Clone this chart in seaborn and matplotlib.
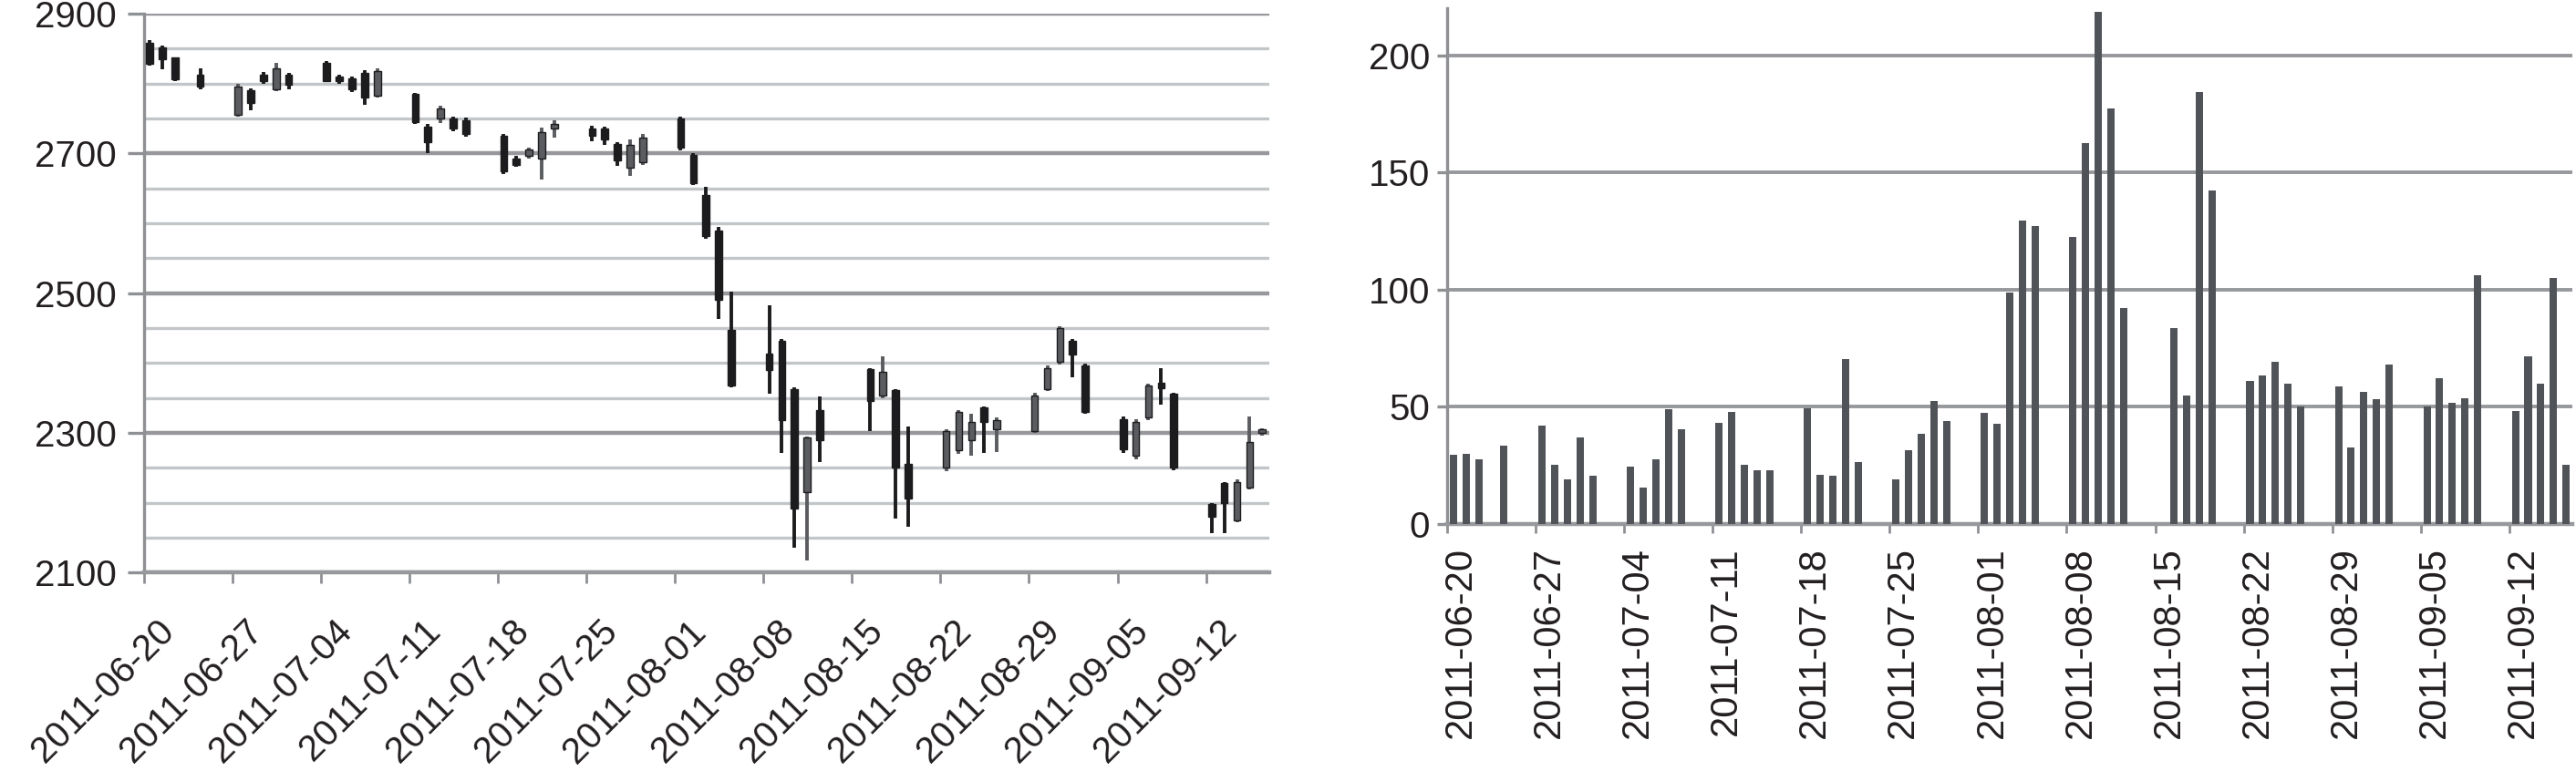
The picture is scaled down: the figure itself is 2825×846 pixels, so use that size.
"""
Candlestick prices (left) and daily volume bars (right), 2011-06-20 .. 2011-09-16.
"""

from __future__ import annotations

import matplotlib

matplotlib.use("Agg")

import matplotlib.dates as mdates
import matplotlib.pyplot as plt
import matplotlib.transforms as mtransforms
import numpy as np
import pandas as pd
import seaborn as sns

# --- data ------------------------------------------------------------------
trade_dates = [
    "2011-06-20", "2011-06-21", "2011-06-22", "2011-06-24",
    "2011-06-27", "2011-06-28", "2011-06-29", "2011-06-30", "2011-07-01",
    "2011-07-04", "2011-07-05", "2011-07-06", "2011-07-07", "2011-07-08",
    "2011-07-11", "2011-07-12", "2011-07-13", "2011-07-14", "2011-07-15",
    "2011-07-18", "2011-07-19", "2011-07-20", "2011-07-21", "2011-07-22",
    "2011-07-25", "2011-07-26", "2011-07-27", "2011-07-28", "2011-07-29",
    "2011-08-01", "2011-08-02", "2011-08-03", "2011-08-04", "2011-08-05",
    "2011-08-08", "2011-08-09", "2011-08-10", "2011-08-11", "2011-08-12",
    "2011-08-16", "2011-08-17", "2011-08-18", "2011-08-19",
    "2011-08-22", "2011-08-23", "2011-08-24", "2011-08-25", "2011-08-26",
    "2011-08-29", "2011-08-30", "2011-08-31", "2011-09-01", "2011-09-02",
    "2011-09-05", "2011-09-06", "2011-09-07", "2011-09-08", "2011-09-09",
    "2011-09-12", "2011-09-13", "2011-09-14", "2011-09-15", "2011-09-16",
]

open_price = [
    2858, 2852, 2837, 2812,
    2755, 2790, 2812, 2792, 2812,
    2830, 2810, 2808, 2815, 2782,
    2785, 2738, 2750, 2750, 2748,
    2725, 2692, 2696, 2692, 2735,
    2735, 2735, 2714, 2680, 2688,
    2750, 2698, 2640, 2589, 2447,
    2413, 2432, 2362, 2215, 2332,
    2391, 2354, 2361, 2256,
    2250, 2275, 2290, 2336, 2305,
    2303, 2363, 2402, 2432, 2397,
    2320, 2268, 2322, 2372, 2356,
    2198, 2228, 2175, 2222, 2300,
]

high_price = [
    2862, 2854, 2838, 2822,
    2800, 2793, 2816, 2830, 2815,
    2832, 2812, 2810, 2819, 2822,
    2787, 2742, 2768, 2753, 2751,
    2728, 2696, 2708, 2737, 2747,
    2739, 2738, 2716, 2720, 2728,
    2752, 2700, 2652, 2595, 2502,
    2482, 2434, 2365, 2295, 2352,
    2393, 2410, 2363, 2309,
    2305, 2333, 2328, 2338, 2322,
    2357, 2396, 2453, 2434, 2399,
    2323, 2319, 2371, 2393, 2358,
    2200, 2230, 2233, 2323, 2306,
]

low_price = [
    2826, 2820, 2804, 2792,
    2752, 2762, 2799, 2789, 2792,
    2802, 2800, 2788, 2770, 2780,
    2742, 2700, 2744, 2732, 2724,
    2670, 2681, 2693, 2662, 2722,
    2718, 2712, 2682, 2668, 2684,
    2704, 2655, 2578, 2463, 2365,
    2356, 2271, 2136, 2117, 2258,
    2303, 2350, 2178, 2166,
    2245, 2270, 2267, 2271, 2272,
    2300, 2360, 2398, 2380, 2328,
    2271, 2262, 2318, 2341, 2247,
    2156, 2156, 2172, 2219, 2296,
]

close_price = [
    2828, 2835, 2806, 2796,
    2795, 2772, 2803, 2822, 2798,
    2804, 2803, 2792, 2780, 2818,
    2745, 2716, 2764, 2735, 2728,
    2674, 2684, 2706, 2730, 2742,
    2725, 2720, 2690, 2712, 2722,
    2708, 2658, 2582, 2490, 2368,
    2390, 2318, 2192, 2293, 2290,
    2345, 2388, 2250, 2206,
    2303, 2330, 2315, 2316, 2318,
    2354, 2393, 2450, 2412, 2330,
    2276, 2316, 2368, 2364, 2250,
    2180, 2200, 2230, 2287, 2302,
]

volume = [
    29.6, 30, 27.4, 33.5,
    41.9, 25, 19, 37, 20.6,
    24.2, 15.5, 27.4, 49, 40.3,
    42.9, 47.7, 25, 22.8, 22.8,
    49.4, 21, 20.3, 70.4, 26.3,
    19, 31.2, 38.3, 52.3, 43.9,
    47.2, 42.7, 98.7, 129.4, 127,
    122.3, 162.5, 218.5, 177.2, 92,
    83.5, 54.8, 184.4, 142.2,
    61, 63.4, 69, 59.9, 50,
    58.6, 32.4, 56.2, 53.3, 68,
    50, 62.1, 51.8, 53.6, 106.2,
    48.1, 71.4, 59.9, 104.8, 25.2,
]

week_ticks = [
    "2011-06-20", "2011-06-27", "2011-07-04", "2011-07-11", "2011-07-18",
    "2011-07-25", "2011-08-01", "2011-08-08", "2011-08-15", "2011-08-22",
    "2011-08-29", "2011-09-05", "2011-09-12",
]

price_major_ticks = [2100, 2300, 2500, 2700, 2900]
volume_ticks = [0, 50, 100, 150, 200]

# --- styling ----------------------------------------------------------------
TEXT_COLOR = "#231f20"
AXIS_GRAY = "#8e9094"
MAJOR_GRID = "#96989b"
MINOR_GRID = "#c3c6c9"
DOWN_COLOR = "#1c1c1e"
UP_COLOR = "#5a5c60"
BAR_COLOR = "#505358"
FONT_SIZE = 29
DPI = 100


def date_nums(values) -> np.ndarray:
    return mdates.date2num(pd.to_datetime(values).to_pydatetime())


def style_common(ax, start: float, xlabel_size: float) -> None:
    ax.set_xlim(start, start + 89)
    ax.set_xticks(date_nums(week_ticks))
    ax.set_xticklabels(week_ticks)
    ax.spines["top"].set_visible(False)
    ax.spines["right"].set_visible(False)
    ax.spines["left"].set_color(AXIS_GRAY)
    ax.spines["left"].set_linewidth(2.4)
    ax.spines["bottom"].set_color(MAJOR_GRID)
    ax.spines["bottom"].set_linewidth(3.2)
    ax.set_axisbelow(True)
    ax.set_xlabel("")
    ax.set_ylabel("")
    for lab in ax.get_yticklabels():
        lab.set_fontsize(FONT_SIZE)
        lab.set_color(TEXT_COLOR)
    for lab in ax.get_xticklabels():
        lab.set_fontsize(xlabel_size)
        lab.set_color(TEXT_COLOR)


def draw_candles(ax, x: np.ndarray) -> None:
    o = np.array(open_price, dtype=float)
    h = np.array(high_price, dtype=float)
    l = np.array(low_price, dtype=float)
    c = np.array(close_price, dtype=float)
    up = c >= o
    colors = np.where(up, UP_COLOR, DOWN_COLOR)
    ax.vlines(x, l, h, colors=colors, linewidth=2.8, zorder=3)
    body_bottom = np.minimum(o, c)
    body_height = np.maximum(np.abs(c - o), 5)
    ax.bar(x, body_height, bottom=body_bottom, width=0.55, color=colors,
           edgecolor=DOWN_COLOR, linewidth=1.0, zorder=4)


def main() -> None:
    sns.set_theme(style="white")
    plt.rcParams["font.family"] = ["Liberation Sans", "DejaVu Sans"]

    fig = plt.figure(figsize=(2825 / DPI, 846 / DPI), dpi=DPI)
    ax1 = fig.add_axes([0.0559, 0.2573, 0.4368, 0.7250])
    ax2 = fig.add_axes([0.5618, 0.3208, 0.4368, 0.6682])

    start = date_nums(["2011-06-20"])[0]
    day_x = date_nums(trade_dates)

    # Left: candlesticks
    draw_candles(ax1, day_x + 0.45)
    ax1.set_ylim(2100, 2900)
    ax1.set_yticks(price_major_ticks)
    ax1.set_yticks(np.arange(2100, 2901, 50), minor=True)
    ax1.grid(which="major", axis="y", color=MAJOR_GRID, linewidth=3.2)
    ax1.grid(which="minor", axis="y", color=MINOR_GRID, linewidth=2.4)
    ax1.grid(which="major", axis="x", visible=False)
    style_common(ax1, start, 29)
    ax1.tick_params(axis="y", which="major", left=True, length=13, width=2.4,
                    color=AXIS_GRAY, pad=8.5)
    ax1.tick_params(axis="y", which="minor", length=0)
    ax1.tick_params(axis="x", bottom=True, length=8.5, width=2.0,
                    color=AXIS_GRAY, pad=24)
    shift1 = mtransforms.ScaledTranslation(14 / DPI, 0, fig.dpi_scale_trans)
    for lab in ax1.get_xticklabels():
        lab.set_rotation(45)
        lab.set_ha("right")
        lab.set_va("top")
        lab.set_rotation_mode("anchor")
        lab.set_transform(lab.get_transform() + shift1)

    # Right: volume bars
    vol_df = pd.DataFrame({"x": day_x + 0.5, "volume": volume})
    sns.barplot(data=vol_df, x="x", y="volume", native_scale=True, width=0.58,
                color=BAR_COLOR, saturation=1, errorbar=None, ax=ax2,
                linewidth=0, zorder=3)
    ax2.set_ylim(0, 220)
    ax2.set_yticks(volume_ticks)
    ax2.grid(which="major", axis="y", color=MAJOR_GRID, linewidth=2.8)
    ax2.grid(which="major", axis="x", visible=False)
    style_common(ax2, start, 30)
    ax2.tick_params(axis="y", left=True, length=8, width=2.4,
                    color=AXIS_GRAY, pad=5.5)
    ax2.tick_params(axis="x", bottom=True, length=7.5, width=2.0,
                    color=AXIS_GRAY, pad=11)
    shift2 = mtransforms.ScaledTranslation(15 / DPI, 0, fig.dpi_scale_trans)
    for lab in ax2.get_xticklabels():
        lab.set_rotation(90)
        lab.set_ha("center")
        lab.set_va("top")
        lab.set_transform(lab.get_transform() + shift2)

    fig.savefig("out.png", dpi=DPI)
    plt.close(fig)


if __name__ == "__main__":
    main()
